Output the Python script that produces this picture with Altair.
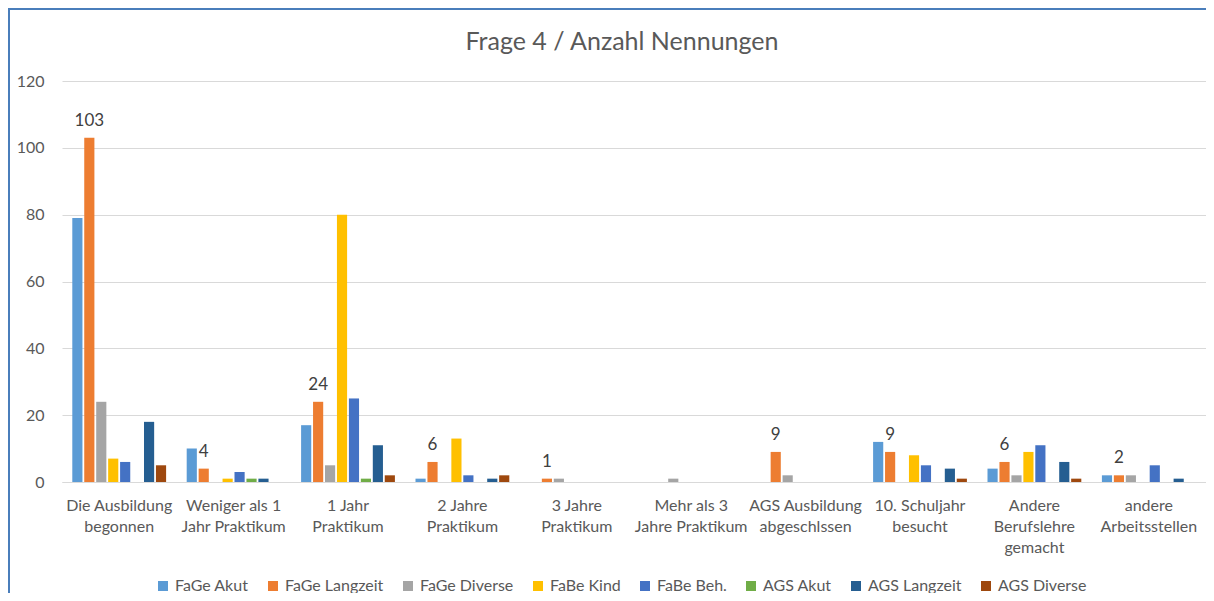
import altair as alt
import pandas as pd

categories = [
    "Die Ausbildung\nbegonnen",
    "Weniger als 1\nJahr Praktikum",
    "1 Jahr\nPraktikum",
    "2 Jahre\nPraktikum",
    "3 Jahre\nPraktikum",
    "Mehr als 3\nJahre Praktikum",
    "AGS Ausbildung\nabgeschlssen",
    "10. Schuljahr\nbesucht",
    "Andere\nBerufslehre\ngemacht",
    "andere\nArbeitsstellen",
]

series = ["FaGe Akut", "FaGe Langzeit", "FaGe Diverse", "FaBe Kind",
          "FaBe Beh.", "AGS Akut", "AGS Langzeit", "AGS Diverse"]

fage_akut = [79, 10, 17, 1, 0, 0, 0, 12, 4, 2]
fage_langzeit = [103, 4, 24, 6, 1, 0, 9, 9, 6, 2]
fage_diverse = [24, 0, 5, 0, 1, 1, 2, 0, 2, 2]
fabe_kind = [7, 1, 80, 13, 0, 0, 0, 8, 9, 0]
fabe_beh = [6, 3, 25, 2, 0, 0, 0, 5, 11, 5]
ags_akut = [0, 1, 1, 0, 0, 0, 0, 0, 0, 0]
ags_langzeit = [18, 1, 11, 1, 0, 0, 0, 4, 6, 1]
ags_diverse = [5, 0, 2, 2, 0, 0, 0, 1, 1, 0]

colors = ["#5B9BD5", "#ED7D31", "#A5A5A5", "#FFC000",
          "#4472C4", "#70AD47", "#255E91", "#9E480E"]

labelled_series = "FaGe Langzeit"
y_ticks = [0, 20, 40, 60, 80, 100, 120]
title_text = "Frage 4 / Anzahl Nennungen"

all_values = [fage_akut, fage_langzeit, fage_diverse, fabe_kind,
              fabe_beh, ags_akut, ags_langzeit, ags_diverse]
rows = []
for s, vals in zip(series, all_values):
    for c, v in zip(categories, vals):
        rows.append({"Kategorie": c, "Serie": s, "Wert": v})
df = pd.DataFrame(rows)

FONT = "Lato"
W, H = 1144, 401
GRAY = "#595959"

x_enc = alt.X("Kategorie:N", sort=categories,
              scale=alt.Scale(paddingInner=0.18, paddingOuter=0.09),
              axis=alt.Axis(title=None, labelAngle=0, ticks=False, grid=False,
                            domainColor="#D9D9D9", labelPadding=15,
                            labelExpr="split(datum.label, '\\n')",
                            labelLineHeight=21, labelFontSize=16,
                            labelColor=GRAY, labelFont=FONT,
                            labelLimit=0))
xoff = alt.XOffset("Serie:N", sort=series,
                   scale=alt.Scale(paddingInner=0.15, paddingOuter=0.0))

bars = alt.Chart(df).mark_bar().encode(
    x=x_enc,
    xOffset=xoff,
    y=alt.Y("Wert:Q", scale=alt.Scale(domain=[0, 120], nice=False),
            axis=alt.Axis(title=None, values=y_ticks, ticks=False, domain=False,
                          grid=True, gridColor="#D9D9D9", labelPadding=18,
                          labelFontSize=16, labelColor=GRAY,
                          labelFont=FONT)),
    color=alt.Color("Serie:N", sort=series,
                    scale=alt.Scale(domain=series, range=colors),
                    legend=alt.Legend(title=None, orient="none",
                                      direction="horizontal", columns=8,
                                      legendX=93, legendY=497,
                                      symbolType="square", symbolSize=100,
                                      symbolStrokeWidth=0,
                                      labelFontSize=16, labelColor=GRAY,
                                      labelFont=FONT, columnPadding=16,
                                      labelOffset=4)),
)

labels = alt.Chart(df).transform_filter(
    (alt.datum.Serie == labelled_series) & (alt.datum.Wert > 0)
).mark_text(baseline="bottom", dy=-8, fontSize=17, color="#404040",
            font=FONT).encode(
    x=alt.X("Kategorie:N", sort=categories),
    xOffset=alt.XOffset("Serie:N", sort=series),
    y="Wert:Q",
    text="Wert:Q",
)

title = alt.Chart(alt.Data(values=[{"t": title_text}])).mark_text(
    fontSize=25, font=FONT, color=GRAY, baseline="middle", align="center"
).encode(x=alt.value(W / 2 - 12), y=alt.value(-39), text=alt.Text("t:N"))

frame_top = alt.Chart(alt.Data(values=[{"k": 1}])).mark_rule(
    color="#4A7EBB", strokeWidth=2, strokeCap="butt").encode(
    x=alt.value(-54), x2=alt.value(W), y=alt.value(-72), y2=alt.value(-72))
frame_left = alt.Chart(alt.Data(values=[{"k": 1}])).mark_rule(
    color="#4A7EBB", strokeWidth=2, strokeCap="butt").encode(
    x=alt.value(-53), x2=alt.value(-53), y=alt.value(-73), y2=alt.value(H + 111))

chart = alt.layer(bars, labels, title, frame_top, frame_left).properties(
    width=W, height=H,
    autosize=alt.AutoSizeParams(type="none"),
    padding={"left": 54, "top": 73, "right": 0, "bottom": 111},
).configure_view(stroke=None)

chart.save("out.html", embed_options={"renderer": "svg", "actions": False})
